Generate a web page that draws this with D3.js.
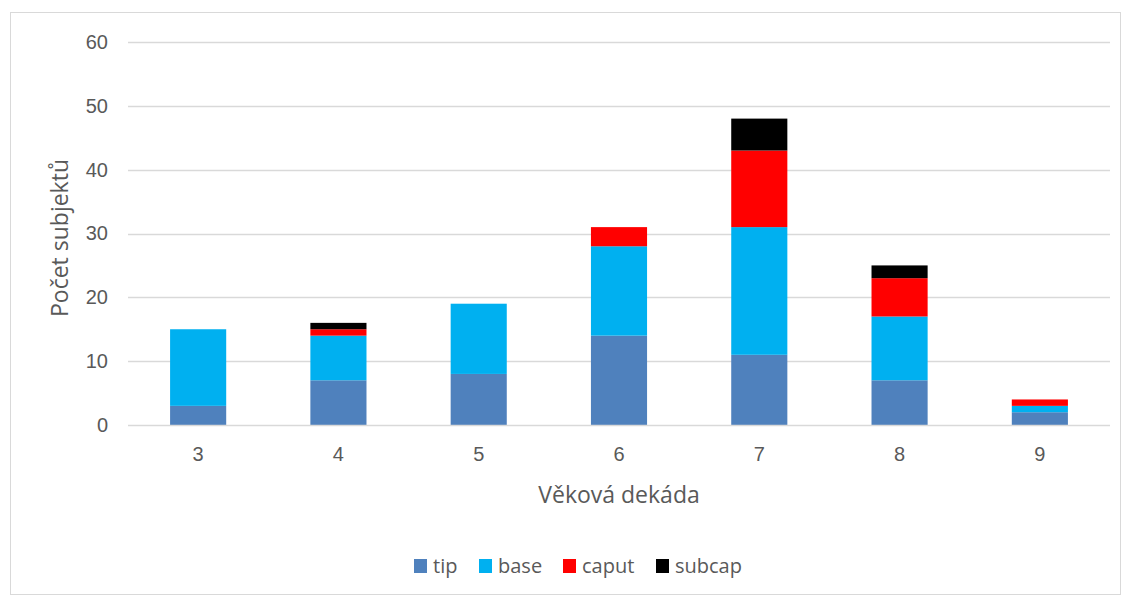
<!DOCTYPE html>
<html>
<head>
<meta charset="utf-8">
<script src="https://cdn.jsdelivr.net/npm/d3@7"></script>
<style>
  html, body { margin: 0; padding: 0; background: #fff; }
  svg { display: block; font-family: "Open Sans", "Noto Sans", sans-serif; }
</style>
</head>
<body>
<svg id="chart" width="1126" height="597"></svg>
<script>
// Age decades on the x axis
const decades = ["3", "4", "5", "6", "7", "8", "9"];
// Subject counts per location, one value per decade
const tip    = [3, 7, 8, 14, 11, 7, 2];
const base   = [12, 7, 11, 14, 20, 10, 1];
const caput  = [0, 1, 0, 3, 12, 6, 1];
const subcap = [0, 1, 0, 0, 5, 2, 0];
const seriesNames = ["tip", "base", "caput", "subcap"];
const seriesColors = ["#4f81bd", "#00b0f0", "#ff0000", "#000000"];
const yTicks = [0, 10, 20, 30, 40, 50, 60];

const rows = decades.map((d, i) => ({
  decade: d, tip: tip[i], base: base[i], caput: caput[i], subcap: subcap[i]
}));

const svg = d3.select("#chart");

// chart frame
svg.append("rect")
  .attr("x", 10.5).attr("y", 12.5)
  .attr("width", 1110).attr("height", 582)
  .attr("fill", "#fff").attr("stroke", "#d9d9d9").attr("stroke-width", 1);

const plot = { left: 128, right: 1110, top: 42, bottom: 425 };

const x = d3.scaleBand().domain(decades)
  .range([plot.left, plot.right]).paddingInner(0.6).paddingOuter(0.3);
const y = d3.scaleLinear().domain([0, 60]).range([plot.bottom, plot.top]);

// horizontal gridlines
svg.append("g").selectAll("line").data(yTicks.filter(t => t > 0)).join("line")
  .attr("x1", plot.left).attr("x2", plot.right)
  .attr("y1", d => Math.round(y(d)) + 0.5).attr("y2", d => Math.round(y(d)) + 0.5)
  .attr("stroke", "#d9d9d9").attr("stroke-width", 1.3);

// y axis labels
const yAxis = d3.axisLeft(y).tickValues(yTicks).tickSize(0).tickPadding(0);
const gy = svg.append("g").attr("transform", `translate(${108},0)`).call(yAxis);
gy.select(".domain").remove();
gy.selectAll("text").attr("fill", "#595959").style("font-size", "20px");

// stacked bars
const stack = d3.stack().keys(seriesNames);
const layers = stack(rows);
const color = d3.scaleOrdinal().domain(seriesNames).range(seriesColors);

svg.append("g").selectAll("g").data(layers).join("g")
  .attr("fill", d => color(d.key))
  .selectAll("rect").data(d => d.filter(v => v[1] - v[0] > 0)).join("rect")
  .attr("x", d => x(d.data.decade))
  .attr("width", x.bandwidth())
  .attr("y", d => y(d[1]))
  .attr("height", d => y(d[0]) - y(d[1]));

// x axis baseline and labels
svg.append("line")
  .attr("x1", plot.left).attr("x2", plot.right)
  .attr("y1", plot.bottom + 0.5).attr("y2", plot.bottom + 0.5)
  .attr("stroke", "#d9d9d9").attr("stroke-width", 1.3);

const xAxis = d3.axisBottom(x).tickSize(0).tickPadding(0);
const gx = svg.append("g").attr("transform", `translate(0,${plot.bottom + 22})`).call(xAxis);
gx.select(".domain").remove();
gx.selectAll("text").attr("fill", "#595959").style("font-size", "20px").attr("dy", "0.71em");

// axis titles
svg.append("text")
  .attr("x", 619).attr("y", 503)
  .attr("text-anchor", "middle").attr("fill", "#595959")
  .style("font-size", "23px").text("Věková dekáda");

svg.append("text")
  .attr("transform", `translate(68,${238}) rotate(-90)`)
  .attr("text-anchor", "middle").attr("fill", "#595959")
  .style("font-size", "23px").text("Počet subjektů");

// legend
const legendItems = [
  { name: "tip", x: 414 },
  { name: "base", x: 479 },
  { name: "caput", x: 563 },
  { name: "subcap", x: 656 }
];
const lg = svg.append("g").selectAll("g").data(legendItems).join("g")
  .attr("transform", d => `translate(${d.x},559)`);
lg.append("rect").attr("width", 13).attr("height", 14).attr("fill", d => color(d.name));
lg.append("text").attr("x", 19).attr("y", 14)
  .attr("fill", "#595959").style("font-size", "20px").text(d => d.name);
</script>
</body>
</html>
